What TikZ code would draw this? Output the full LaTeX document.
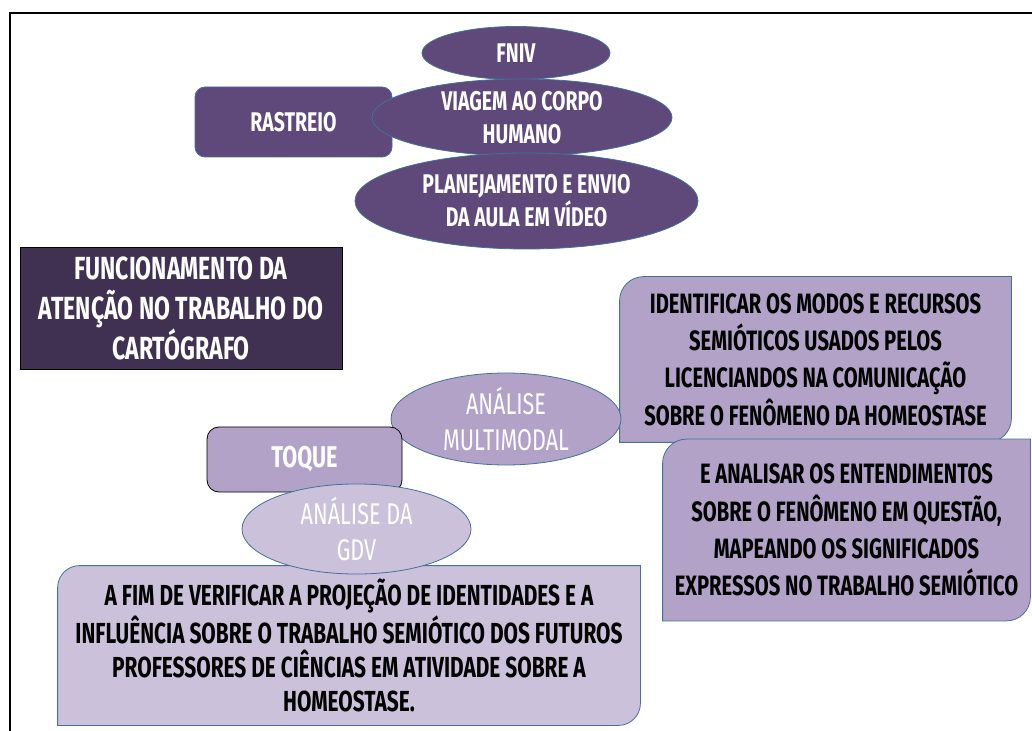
\documentclass[tikz,border=0pt]{standalone}
\usepackage{fontspec}
\setmainfont{Fira Sans}[FakeStretch=0.72]
\usepackage{xcolor}
\usetikzlibrary{shapes.geometric, backgrounds}

\definecolor{darkpurple}{HTML}{5F497A}
\definecolor{deeppurple}{HTML}{403152}
\definecolor{midpurple}{HTML}{B2A2C7}
\definecolor{palepurple}{HTML}{CCC1DA}
\definecolor{edgeblue}{HTML}{41719C}

\begin{document}
\begin{tikzpicture}[x=0.5pt, y=-0.5pt]
    \tikzstyle{darkoval} = [ellipse, inner sep=0pt, draw=edgeblue, fill=darkpurple, text=white, align=center, font=\bfseries\fontsize{13.5}{16.5}\selectfont]
    \tikzstyle{darkbox} = [rectangle, rounded corners=5pt, draw=edgeblue, fill=darkpurple, text=white, align=center, font=\bfseries\fontsize{13.5}{16.5}\selectfont]
    \tikzstyle{titlebox} = [rectangle, draw=black, fill=deeppurple, text=white, align=center, font=\bfseries\fontsize{16}{20}\selectfont]
    \tikzstyle{lightoval} = [ellipse, inner sep=0pt, draw=edgeblue, text=white, align=center, font=\fontsize{15}{18}\selectfont]
    \tikzstyle{lightbox} = [rectangle, rounded corners=6pt, draw=black, fill=midpurple, text=white, align=center, font=\bfseries\fontsize{15}{18}\selectfont]
    \tikzstyle{textbox} = [rectangle, inner sep=2pt, text=black, align=center, font=\bfseries\fontsize{14}{18.7}\selectfont]
    \tikzstyle{leaf} = [draw=edgeblue, fill=midpurple]

    \useasboundingbox (0,0) rectangle (1032,731);
    \draw [line width=1pt] (10,731) -- (10,13) -- (1032,13);

    % rastreio
    \node (fniv) [darkoval, minimum width=94pt, minimum height=26.5pt] at (516,53) {FNIV};
    \node (rastreio) [darkbox, minimum width=98.5pt, minimum height=35pt] at (293.5,122) {RASTREIO};
    \node (viagem) [darkoval, minimum width=150pt, minimum height=38.5pt] at (522,117.5) {VIAGEM AO CORPO\\HUMANO};
    \node (aula) [darkoval, minimum width=171.5pt, minimum height=48pt] at (526.5,201) {PLANEJAMENTO E ENVIO\\DA AULA EM VÍDEO};

    \node (titulo) [titlebox, minimum width=161pt, minimum height=61pt] at (181,308) {FUNCIONAMENTO DA\\ATENÇÃO NO TRABALHO DO\\CARTÓGRAFO};

    % toque
    \node (multimodal) [lightoval, fill=midpurple, minimum width=115pt, minimum height=46pt] at (506,419) {ANÁLISE\\MULTIMODAL};
    \node (toque) [lightbox, minimum width=97.5pt, minimum height=32.5pt] at (304.5,459.5) {TOQUE};
    \node (gdv) [lightoval, fill=palepurple, minimum width=114.5pt, minimum height=37pt] at (356.5,529) {ANÁLISE DA\\GDV};

    \node (identificar) [textbox, minimum width=195.5pt, minimum height=82.5pt] at (815.5,359.5) {IDENTIFICAR OS MODOS E RECURSOS\\SEMIÓTICOS USADOS PELOS\\LICENCIANDOS NA COMUNICAÇÃO\\SOBRE O FENÔMENO DA HOMEOSTASE};
    \node (analisar) [textbox, minimum width=183.5pt, minimum height=90.5pt] at (846.5,530) {E ANALISAR OS ENTENDIMENTOS\\SOBRE O FENÔMENO EM QUESTÃO,\\MAPEANDO OS SIGNIFICADOS\\EXPRESSOS NO TRABALHO SEMIÓTICO};
    \node (fim) [textbox, font=\bfseries\fontsize{14.5}{17}\selectfont, minimum width=291pt, minimum height=79.5pt] at (349,645.5) {A FIM DE VERIFICAR A PROJEÇÃO DE IDENTIDADES E A\\INFLUÊNCIA SOBRE O TRABALHO SEMIÓTICO DOS FUTUROS\\PROFESSORES DE CIÊNCIAS EM ATIVIDADE SOBRE A\\HOMEOSTASE.};

    \begin{scope}[on background layer]
        \draw [leaf] ([yshift=-12pt]identificar.north west) arc[start angle=180, end angle=90, radius=12pt] -- (identificar.north east) -- ([yshift=12pt]identificar.south east) arc[start angle=0, end angle=-90, radius=12pt] -- (identificar.south west) -- cycle;
        \draw [leaf] ([yshift=-12pt]analisar.north west) arc[start angle=180, end angle=90, radius=12pt] -- (analisar.north east) -- ([yshift=12pt]analisar.south east) arc[start angle=0, end angle=-90, radius=12pt] -- (analisar.south west) -- cycle;
        \draw [leaf, fill=palepurple] ([yshift=-11pt]fim.north west) arc[start angle=180, end angle=90, radius=11pt] -- (fim.north east) -- ([yshift=11pt]fim.south east) arc[start angle=0, end angle=-90, radius=11pt] -- (fim.south west) -- cycle;
    \end{scope}
\end{tikzpicture}
\end{document}
